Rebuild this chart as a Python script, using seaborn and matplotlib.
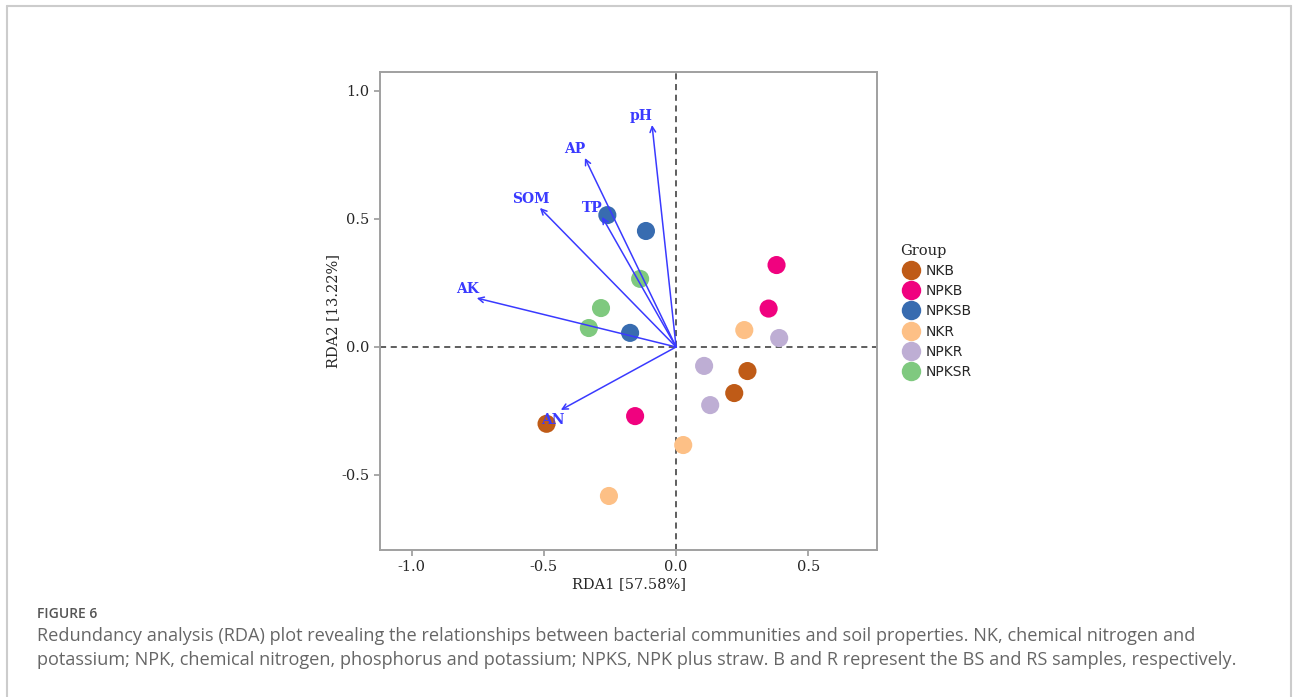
# RDA biplot - bacterial communities vs soil properties
import matplotlib.pyplot as plt
from matplotlib.lines import Line2D
import pandas as pd
import seaborn as sns

sns.set_theme(style="ticks")
plt.rcParams["font.family"] = ["DejaVu Serif"]
plt.rcParams["axes.unicode_minus"] = False

# sample scores (RDA1, RDA2) per group
groups = ["NKB", "NPKB", "NPKSB", "NKR", "NPKR", "NPKSR"]
colors = ["#bf5b17", "#f0027f", "#386cb0", "#fdc086", "#beaed4", "#7fc97f"]

nkb_x = [-0.49, 0.27, 0.22]
nkb_y = [-0.30, -0.094, -0.18]
npkb_x = [0.38, 0.35, -0.155]
npkb_y = [0.32, 0.15, -0.27]
npksb_x = [-0.26, -0.114, -0.174]
npksb_y = [0.515, 0.453, 0.055]
nkr_x = [0.258, 0.027, -0.254]
nkr_y = [0.066, -0.383, -0.582]
npkr_x = [0.39, 0.106, 0.129]
npkr_y = [0.035, -0.074, -0.227]
npksr_x = [-0.284, -0.33, -0.136]
npksr_y = [0.152, 0.074, 0.266]

# environmental vectors
env_names = ["pH", "AP", "SOM", "TP", "AK", "AN"]
env_x = [-0.091, -0.345, -0.515, -0.280, -0.754, -0.436]
env_y = [0.867, 0.738, 0.543, 0.508, 0.191, -0.246]
label_x = [-0.133, -0.383, -0.549, -0.318, -0.788, -0.466]
label_y = [0.902, 0.773, 0.578, 0.543, 0.227, -0.285]

xs = [nkb_x, npkb_x, npksb_x, nkr_x, npkr_x, npksr_x]
ys = [nkb_y, npkb_y, npksb_y, nkr_y, npkr_y, npksr_y]
rows = []
for g, gx, gy in zip(groups, xs, ys):
    for a, b in zip(gx, gy):
        rows.append({"RDA1": a, "RDA2": b, "Group": g})
df = pd.DataFrame(rows)

fig = plt.figure(figsize=(12.93, 6.97), dpi=100)
ax = fig.add_axes([380 / 1293, 1 - 550 / 697, 497 / 1293, 478 / 697])

ax.axhline(0, color="#333333", ls=(0, (4, 3)), lw=1.1, zorder=1)
ax.axvline(0, color="#333333", ls=(0, (4, 3)), lw=1.1, zorder=1)

sns.scatterplot(data=df, x="RDA1", y="RDA2", hue="Group", hue_order=groups,
                palette=colors, s=170, edgecolor="none", alpha=1,
                legend=False, ax=ax, zorder=2)

arrow_col = "#3a3aff"
for name, ex, ey, lx, ly in zip(env_names, env_x, env_y, label_x, label_y):
    ax.annotate("", xy=(ex, ey), xytext=(0, 0),
                arrowprops=dict(arrowstyle="->", color=arrow_col, lw=1.1,
                                shrinkA=0, shrinkB=0, mutation_scale=10),
                zorder=3)
    ax.text(lx, ly, name, color=arrow_col, fontsize=10, fontweight="bold",
            ha="center", va="center", zorder=4)

ax.set_xlim(-1.12, 0.76)
ax.set_ylim(-0.793, 1.074)
ax.set_xticks([-1.0, -0.5, 0.0, 0.5])
ax.set_yticks([-0.5, 0.0, 0.5, 1.0])
ax.set_xlabel("RDA1 [57.58%]", fontsize=10.5, labelpad=2)
ax.set_ylabel("RDA2 [13.22%]", fontsize=10.5, labelpad=1)
ax.tick_params(labelsize=10.5, color="#999999", length=4, width=1.2)
for sp in ax.spines.values():
    sp.set_color("#a0a0a0")
    sp.set_linewidth(1.4)

# legend
handles = [Line2D([], [], marker="o", ls="none", markersize=14,
                  markerfacecolor=c, markeredgecolor="none") for c in colors]
leg = fig.legend(handles, groups, title="Group", loc="upper left",
                 bbox_to_anchor=(888 / 1293, 1 - 231 / 697), frameon=False,
                 prop={"family": "DejaVu Sans", "size": 10},
                 title_fontproperties={"family": "DejaVu Serif", "size": 10.5},
                 handletextpad=0.3, labelspacing=0.45, handlelength=1.5)
leg._legend_box.align = "left"

# caption
fig.text(37 / 1293, 1 - 614 / 697, "FIGURE 6", fontsize=10, color="#555555",
         family="Open Sans", fontweight="semibold", va="center")
fig.text(37 / 1293, 1 - 636 / 697,
         "Redundancy analysis (RDA) plot revealing the relationships between bacterial communities and soil properties. NK, chemical nitrogen and",
         fontsize=13.1, color="#666666", family="Open Sans", va="center")
fig.text(37 / 1293, 1 - 660 / 697,
         "potassium; NPK, chemical nitrogen, phosphorus and potassium; NPKS, NPK plus straw. B and R represent the BS and RS samples, respectively.",
         fontsize=13.1, color="#666666", family="Open Sans", va="center")

# page frame
for xy in [([7, 7], [697, 5.5]), ([7, 1291], [5.5, 5.5]), ([1291, 1291], [5.5, 697])]:
    fig.add_artist(Line2D([v / 1293 for v in xy[0]], [1 - v / 697 for v in xy[1]],
                          color="#cccccc", lw=1.5))

plt.savefig("out.png", dpi=100)
